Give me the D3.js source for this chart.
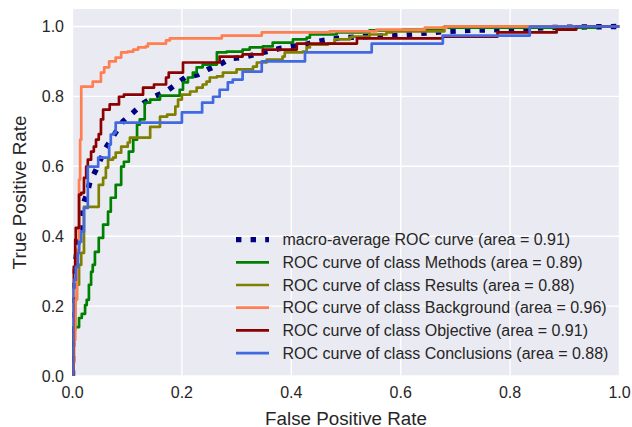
<html>
<head>
    <meta charset="utf-8">
    <script src="https://d3js.org/d3.v7.min.js"></script>
    <style>
        body { margin: 0; background: #fff; }
        svg text { font-family: "Liberation Sans", Arial, sans-serif; fill: #262626; }
    </style>
</head>
<body>
<svg id="chart" width="632" height="427"></svg>
<script>
    // ROC points (fpr = x, tpr = y)
    const macroFpr = [0, 0.001, 0.005, 0.008, 0.014, 0.017, 0.019, 0.027, 0.032, 0.043, 0.061, 0.074, 0.092, 0.111, 0.131, 0.149, 0.171, 0.189, 0.206, 0.229, 0.247, 0.269, 0.288, 0.311, 0.333, 0.355, 0.379, 0.401, 0.425, 0.447, 0.470, 0.494, 0.540, 0.589, 0.635, 0.684, 0.730, 0.777, 0.823, 0.872, 0.945, 1]
    const macroTpr = [0, 0.247, 0.309, 0.361, 0.418, 0.456, 0.490, 0.524, 0.556, 0.590, 0.653, 0.685, 0.728, 0.754, 0.782, 0.799, 0.814, 0.834, 0.854, 0.862, 0.877, 0.891, 0.908, 0.911, 0.920, 0.928, 0.937, 0.943, 0.948, 0.957, 0.963, 0.968, 0.971, 0.974, 0.980, 0.986, 0.989, 0.991, 0.994, 0.997, 0.999, 1]

    const methodsFpr = [0, 0.001, 0.012, 0.017, 0.023, 0.026, 0.030, 0.034, 0.037, 0.041, 0.048, 0.056, 0.065, 0.070, 0.079, 0.089, 0.094, 0.103, 0.111, 0.118, 0.123, 0.132, 0.142, 0.160, 0.196, 0.202, 0.211, 0.220, 0.227, 0.238, 0.264, 0.282, 0.311, 0.324, 0.348, 0.366, 0.403, 0.428, 0.434, 0.483, 0.543, 0.604, 0.677, 0.958, 1]
    const methodsTpr = [0, 0.140, 0.166, 0.178, 0.203, 0.218, 0.261, 0.298, 0.318, 0.355, 0.395, 0.433, 0.470, 0.510, 0.547, 0.599, 0.613, 0.642, 0.676, 0.719, 0.734, 0.782, 0.791, 0.802, 0.819, 0.840, 0.854, 0.868, 0.883, 0.891, 0.926, 0.928, 0.934, 0.940, 0.943, 0.954, 0.963, 0.968, 0.977, 0.983, 0.989, 0.991, 0.997, 1.0, 1.0]

    const resultsFpr = [0, 0.001, 0.005, 0.008, 0.012, 0.016, 0.021, 0.048, 0.056, 0.061, 0.065, 0.074, 0.079, 0.089, 0.101, 0.105, 0.142, 0.160, 0.173, 0.188, 0.193, 0.200, 0.215, 0.227, 0.238, 0.245, 0.251, 0.264, 0.275, 0.300, 0.330, 0.337, 0.355, 0.384, 0.388, 0.421, 0.428, 0.434, 0.467, 0.479, 0.507, 0.510, 0.543, 0.574, 0.585, 0.680, 1]
    const resultsTpr = [0, 0.132, 0.218, 0.261, 0.318, 0.352, 0.484, 0.547, 0.567, 0.596, 0.619, 0.625, 0.639, 0.656, 0.668, 0.682, 0.713, 0.742, 0.748, 0.771, 0.791, 0.805, 0.814, 0.825, 0.834, 0.842, 0.854, 0.857, 0.868, 0.877, 0.885, 0.897, 0.905, 0.914, 0.926, 0.928, 0.940, 0.948, 0.951, 0.963, 0.968, 0.971, 0.977, 0.983, 0.986, 1.0, 1.0]

    const backgroundFpr = [0, 0.001, 0.003, 0.005, 0.008, 0.012, 0.014, 0.016, 0.037, 0.052, 0.058, 0.067, 0.079, 0.089, 0.101, 0.111, 0.120, 0.134, 0.138, 0.171, 0.178, 0.273, 0.346, 0.470, 0.556, 0.644, 0.684, 1]
    const backgroundTpr = [0, 0.037, 0.103, 0.218, 0.361, 0.562, 0.676, 0.828, 0.842, 0.868, 0.883, 0.900, 0.911, 0.926, 0.928, 0.934, 0.940, 0.943, 0.951, 0.960, 0.966, 0.974, 0.983, 0.986, 0.991, 0.997, 1.0, 1.0]

    const objectiveFpr = [0, 0.001, 0.005, 0.006, 0.012, 0.016, 0.021, 0.025, 0.028, 0.034, 0.039, 0.043, 0.048, 0.052, 0.056, 0.068, 0.085, 0.094, 0.129, 0.149, 0.171, 0.176, 0.202, 0.269, 0.311, 0.348, 0.410, 0.520, 0.677, 0.777, 0.885, 0.921, 1]
    const objectiveTpr = [0, 0.312, 0.390, 0.424, 0.519, 0.524, 0.567, 0.599, 0.619, 0.642, 0.656, 0.676, 0.692, 0.734, 0.762, 0.777, 0.799, 0.805, 0.825, 0.834, 0.854, 0.868, 0.897, 0.914, 0.920, 0.934, 0.951, 0.966, 0.971, 0.983, 0.991, 1.0, 1.0]

    const conclusionsFpr = [0, 0.001, 0.003, 0.006, 0.010, 0.012, 0.016, 0.021, 0.028, 0.047, 0.067, 0.070, 0.076, 0.079, 0.200, 0.237, 0.257, 0.269, 0.284, 0.293, 0.311, 0.346, 0.425, 0.547, 0.677, 0.836, 1]
    const conclusionsTpr = [0, 0.252, 0.275, 0.312, 0.352, 0.384, 0.413, 0.481, 0.599, 0.625, 0.662, 0.691, 0.696, 0.725, 0.754, 0.782, 0.799, 0.819, 0.840, 0.848, 0.871, 0.900, 0.926, 0.951, 0.974, 1.0, 1.0]

    const classNames = ["Methods", "Results", "Background", "Objective", "Conclusions"]
    const classAreas = ["0.89", "0.88", "0.96", "0.91", "0.88"]
    const macroArea = "0.91"
    const tickValues = [0, 0.2, 0.4, 0.6, 0.8, 1.0]

    let svg = d3.select("#chart"),
        margin = {top: 9, left: 72.5, bottom: 51, right: 12.5},
        width = +svg.attr("width"),
        height = +svg.attr("height")

    let x = d3.scaleLinear().domain([0, 1]).range([margin.left, width - margin.right])
    let y = d3.scaleLinear().domain([0, 1.05]).range([height - margin.bottom, margin.top])

    let colors = ["green", "olive", "coral", "darkred", "royalblue"]

    // axes background
    svg.append("rect")
        .attr("x", x(0)).attr("y", y(1.05))
        .attr("width", x(1) - x(0)).attr("height", y(0) - y(1.05))
        .attr("fill", "#EAEAF2")

    svg.append("clipPath").attr("id", "clip")
        .append("rect")
        .attr("x", x(0)).attr("y", y(1.05))
        .attr("width", x(1) - x(0)).attr("height", y(0) - y(1.05))

    // grid
    svg.append("g").selectAll("line")
        .data(tickValues).enter().append("line")
        .attr("x1", d => x(d)).attr("x2", d => x(d))
        .attr("y1", y(0)).attr("y2", y(1.05))
        .attr("stroke", "white").attr("stroke-width", 1.4)

    svg.append("g").selectAll("line")
        .data(tickValues).enter().append("line")
        .attr("x1", x(0)).attr("x2", x(1))
        .attr("y1", d => y(d)).attr("y2", d => y(d))
        .attr("stroke", "white").attr("stroke-width", 1.4)

    // tick labels
    svg.append("g").selectAll("text")
        .data(tickValues).enter().append("text")
        .attr("x", d => x(d)).attr("y", y(0) + 21.5)
        .attr("text-anchor", "middle")
        .style("font-size", "16px")
        .text(d => d.toFixed(1))

    svg.append("g").selectAll("text")
        .data(tickValues).enter().append("text")
        .attr("x", x(0) - 8.5).attr("y", d => y(d))
        .attr("dy", "0.36em")
        .attr("text-anchor", "end")
        .style("font-size", "16px")
        .text(d => d.toFixed(1))

    svg.append("text")
        .attr("x", (x(0) + x(1)) / 2).attr("y", 424.5)
        .attr("text-anchor", "middle")
        .style("font-size", "18.8px")
        .text("False Positive Rate")

    svg.append("text")
        .attr("transform", `translate(25.5,${(y(0) + y(1.05)) / 2}) rotate(-90)`)
        .attr("text-anchor", "middle")
        .style("font-size", "18.8px")
        .text("True Positive Rate")

    // curves
    let plot = svg.append("g").attr("clip-path", "url(#clip)")

    let stepLine = d3.line().x(d => x(d[0])).y(d => y(d[1])).curve(d3.curveStepAfter)
    let smoothLine = d3.line().x(d => x(d[0])).y(d => y(d[1]))

    plot.append("path")
        .datum(d3.zip(macroFpr, macroTpr))
        .attr("d", smoothLine)
        .attr("fill", "none")
        .attr("stroke", "navy")
        .attr("stroke-width", 5.4)
        .attr("stroke-dasharray", "5.4,9.2")

    let curves = [
        d3.zip(methodsFpr, methodsTpr),
        d3.zip(resultsFpr, resultsTpr),
        d3.zip(backgroundFpr, backgroundTpr),
        d3.zip(objectiveFpr, objectiveTpr),
        d3.zip(conclusionsFpr, conclusionsTpr)
    ]

    plot.selectAll(".roc")
        .data(curves).enter().append("path")
        .attr("class", "roc")
        .attr("d", stepLine)
        .attr("fill", "none")
        .attr("stroke", (d, i) => colors[i])
        .attr("stroke-width", 2.7)
        .attr("stroke-linejoin", "round")

    // legend
    let labels = [`macro-average ROC curve (area = ${macroArea})`]
        .concat(classNames.map((c, i) => `ROC curve of class ${c} (area = ${classAreas[i]})`))
    let legendColors = ["navy"].concat(colors)

    let legend = svg.append("g")
        .selectAll("g")
        .data(labels).enter().append("g")
        .attr("transform", (d, i) => `translate(236,${239.6 + i * 22.7})`)

    legend.append("line")
        .attr("x1", 0).attr("x2", 33)
        .attr("stroke", (d, i) => legendColors[i])
        .attr("stroke-width", (d, i) => i == 0 ? 5.4 : 2.7)
        .attr("stroke-dasharray", (d, i) => i == 0 ? "5.4,9.2" : null)

    legend.append("text")
        .attr("x", 46.5)
        .attr("dy", "0.36em")
        .style("font-size", "16px")
        .text(d => d)
</script>
</body>
</html>
